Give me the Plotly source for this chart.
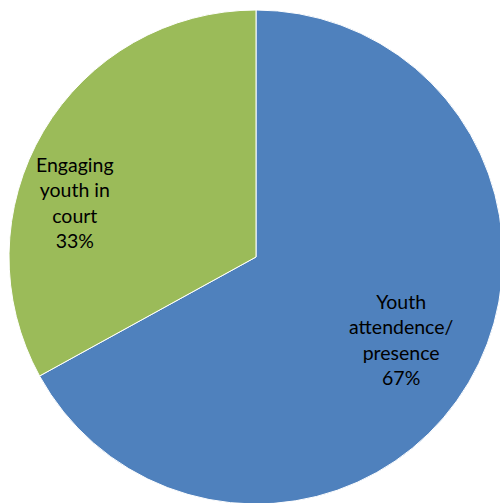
import plotly.graph_objects as go

labels = ["Youth<br>attendence/<br>presence", "Engaging<br>youth in<br>court"]
values = [67, 33]
colors = ["#4F81BD", "#9BBB59"]

total = sum(values)

fig = go.Figure(go.Pie(
    labels=labels,
    values=values,
    sort=False,
    direction="clockwise",
    rotation=0,
    marker=dict(colors=colors, line=dict(color="white", width=1)),
    textinfo="none",
    hoverinfo="label+percent",
    showlegend=False,
))

# label placement (paper coords) for each slice, as in the reference
label_pos = [(0.7955, 0.332), (0.1336, 0.6113)]
for lab, val, (px, py) in zip(labels, values, label_pos):
    fig.add_annotation(
        x=px, y=py, xref="paper", yref="paper",
        text=f"{lab}<br>{round(100 * val / total)}%",
        showarrow=False, align="center",
        xanchor="center", yanchor="middle",
        font=dict(family="Lato", size=19.5, color="black"),
    )

fig.update_layout(
    width=512, height=514,
    margin=dict(l=9, r=9, t=10, b=10),
    paper_bgcolor="white",
    plot_bgcolor="white",
)

fig.write_html(
    "out.html",
    config={"displayModeBar": False},
    post_script="document.body.style.overflow='hidden';document.body.style.margin='0';",
)
